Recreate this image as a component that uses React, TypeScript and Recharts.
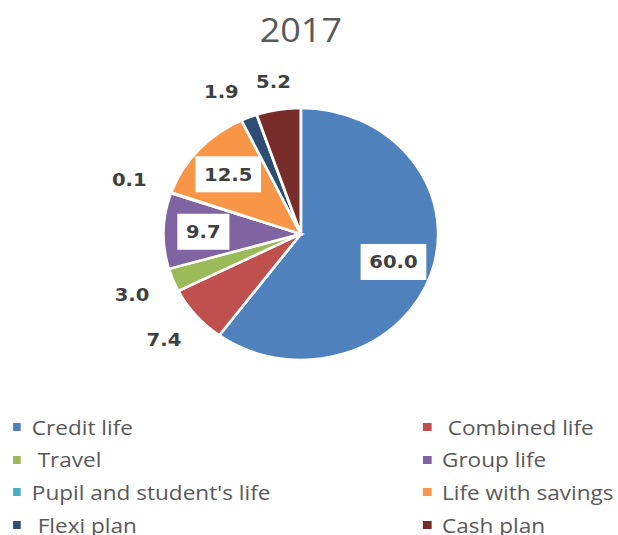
import React from "react";
import { PieChart, Pie, Cell, Legend } from "recharts";

const title = "2017";
const categories = [
  "Credit life",
  " Combined life",
  " Travel",
  "Group life",
  "Pupil and student's life",
  "Life with savings",
  " Flexi plan",
  "Cash plan",
];
const shares = [60.0, 7.4, 3.0, 9.7, 0.1, 12.5, 1.9, 5.2];
const colors = ["#4F81BD", "#C0504D", "#9BBB59", "#8064A2", "#4BACC6", "#F79646", "#2C4D75", "#772C2A"];

const data = categories.map((name, i) => ({ name, value: shares[i] }));

// the reference is a bit wider than tall, so the whole chart is stretched horizontally
const STRETCH = 1.09;
const W = 618 / STRETCH;
const H = 535;
const CX = 276;
const R = 126;
const RAD = Math.PI / 180;
const INSIDE_MIN = 0.08;

const labelWidth = (t: string) => t.replace(".", "").length * 12.5 + 6.8;

const outsidePos = (angle: number) => {
  const cos = Math.cos(-angle * RAD);
  const sin = Math.sin(-angle * RAD);
  const r = R + 20 + 20 * Math.abs(cos) + 5 * Math.abs(sin);
  return { x: r * cos, y: r * sin };
};

// nudge small outside labels apart (anticlockwise) when they crowd each other
const total = shares.reduce((a, b) => a + b, 0);
const angleShift = shares.map(() => 0);
{
  let cum = 0;
  const mids = shares.map((v) => {
    const m = 90 - ((cum + v / 2) / total) * 360;
    cum += v;
    return m;
  });
  let prev: { x: number; y: number; w: number } | null = null;
  for (let i = shares.length - 1; i >= 0; i--) {
    if (shares[i] / total > INSIDE_MIN) continue;
    const w = labelWidth(shares[i].toFixed(1));
    let shift = 0;
    let p = outsidePos(mids[i]);
    while (prev && Math.abs(p.x - prev.x) < (w + prev.w) / 2 + 15 && Math.abs(p.y - prev.y) < 22 && shift < 30) {
      shift += 1;
      p = outsidePos(mids[i] + shift);
    }
    angleShift[i] = shift;
    prev = { ...p, w };
  }
}

const renderLabel = (props: any) => {
  const { cx, cy, midAngle, outerRadius, value, percent, index } = props;
  const text = Number(value).toFixed(1);
  const w = labelWidth(text);
  const style = { fontFamily: "DejaVu Sans", fontWeight: 700, fontSize: 18, fill: "#404040" };
  if (percent > INSIDE_MIN) {
    const r = outerRadius * 0.71;
    const x = cx + r * Math.cos(-midAngle * RAD);
    const y = cy + r * Math.sin(-midAngle * RAD);
    return (
      <g>
        <rect x={x - w / 2 - 8} y={y - 18} width={w + 16} height={36} fill="#ffffff" />
        <text x={x} y={y} textAnchor="middle" dominantBaseline="central" style={style}>
          {text}
        </text>
      </g>
    );
  }
  const p = outsidePos(midAngle + angleShift[index]);
  return (
    <text x={cx + p.x} y={cy + p.y} textAnchor="middle" dominantBaseline="central" style={style}>
      {text}
    </text>
  );
};

const LegendGrid = () => (
  <div style={{ position: "relative", width: W, height: 125 }}>
    {categories.map((name, i) => {
      const col = i % 2;
      const row = Math.floor(i / 2);
      return (
        <div
          key={`legend-${i}`}
          style={{
            position: "absolute",
            left: col === 0 ? 11.7 : 388,
            top: 6.5 + row * 32.7,
            height: 20,
            lineHeight: "20px",
            whiteSpace: "pre",
            display: "flex",
          }}
        >
          <span
            style={{
              display: "inline-block",
              width: 7.5,
              height: 8,
              marginTop: 6.5,
              backgroundColor: colors[i],
            }}
          />
          <span style={{ marginLeft: 10, fontSize: 20.7, color: "#595959", fontFamily: "Open Sans" }}>{name}</span>
        </div>
      );
    })}
  </div>
);

export default function App() {
  return (
    <div style={{ position: "absolute", left: 0, top: 0, width: 618, height: H, background: "#fff", overflow: "hidden" }}>
      <div
        style={{
          position: "relative",
          width: W,
          height: H,
          transform: `scaleX(${STRETCH})`,
          transformOrigin: "0 0",
          fontFamily: "Open Sans",
        }}
      >
        <div
          style={{
            position: "absolute",
            top: 7,
            left: 0,
            width: CX * 2,
            textAlign: "center",
            fontSize: 33,
            lineHeight: "45px",
            color: "#595959",
          }}
        >
          {title}
        </div>
        <PieChart width={W} height={H} margin={{ top: 0, right: 0, bottom: 0, left: 0 }}>
          <Pie
            data={data}
            dataKey="value"
            nameKey="name"
            cx={CX}
            cy={234}
            outerRadius={R}
            startAngle={90}
            endAngle={-270}
            stroke="#ffffff"
            strokeWidth={2.5}
            label={renderLabel}
            labelLine={false}
            isAnimationActive={false}
          >
            {data.map((d, i) => (
              <Cell key={`cell-${i}`} fill={colors[i]} />
            ))}
          </Pie>
          <Legend
            content={<LegendGrid />}
            wrapperStyle={{ position: "absolute", top: 410, left: 0, width: W, height: 125 }}
          />
        </PieChart>
      </div>
    </div>
  );
}
